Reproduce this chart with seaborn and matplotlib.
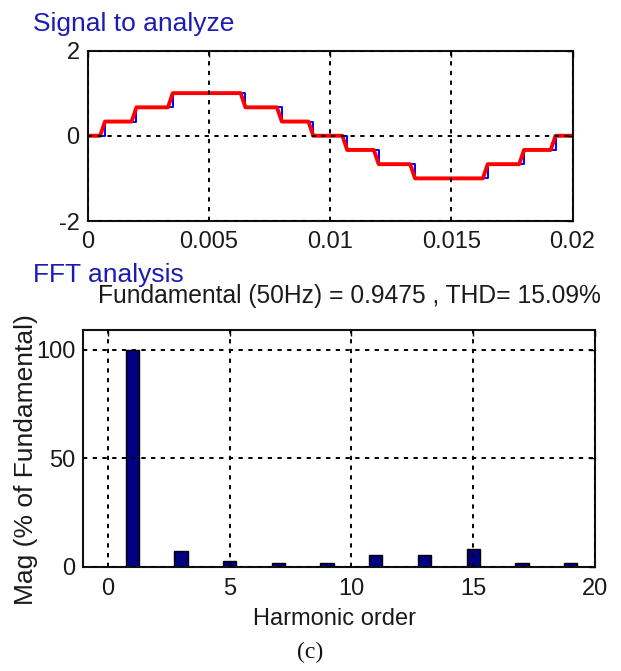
import numpy as np
import pandas as pd
import matplotlib
matplotlib.use("Agg")
import matplotlib.pyplot as plt
import seaborn as sns

# ---- staircase output voltage (per unit) over one 50 Hz cycle ----
step_times = [0.0, 0.0007, 0.0020, 0.0035, 0.0065, 0.0080, 0.0093,
              0.0107, 0.0120, 0.0135, 0.0165, 0.0180, 0.0193, 0.0200]
step_levels = [0.0, 1/3, 2/3, 1.0, 2/3, 1/3, 0.0,
               -1/3, -2/3, -1.0, -2/3, -1/3, 0.0, 0.0]

# filtered/sampled trace: each level change ramps between these instants
ramp_start = [0.0005, 0.0018, 0.0033, 0.0063, 0.0078, 0.0091,
              0.0105, 0.0118, 0.0133, 0.0163, 0.0178, 0.0191]
ramp_end = [0.0007, 0.0020, 0.0035, 0.0065, 0.0080, 0.0093,
            0.0107, 0.0120, 0.0135, 0.0165, 0.0180, 0.0193]

# ---- harmonic spectrum (% of fundamental) ----
harmonics = [1, 3, 5, 7, 9, 11, 13, 15, 17, 19]
magnitudes = [100.0, 7.4, 2.8, 1.8, 1.8, 5.4, 5.4, 8.3, 1.7, 1.7]

fundamental = 0.9475
thd = 15.09

top_xticks = [0, 0.005, 0.01, 0.015, 0.02]
top_xticklabels = ["0", "0.005", "0.01", "0.015", "0.02"]
top_yticks = [-2, 0, 2]
bot_xticks = [0, 5, 10, 15, 20]
bot_yticks = [0, 50, 100]

sns.set_theme(style="white")
plt.rcParams["font.family"] = ["Liberation Sans", "DejaVu Sans"]
plt.rcParams["axes.unicode_minus"] = False
plt.rcParams["text.color"] = "#1a1a1a"

TXT = "#1a1a1a"
BLUE_TXT = "#1c1cb4"
FS = 17

W, H = 621, 671
fig = plt.figure(figsize=(W / 100, H / 100), dpi=100)


def px_axes(left, top, right, bottom):
    return fig.add_axes([left / W, 1 - bottom / H, (right - left) / W, (bottom - top) / H])


def fy(y):
    return 1 - y / H


grid_kw = dict(color="black", linestyle=(0, (2.2, 2.8)), linewidth=1.4)


def style_axes(ax, xpad, ypad):
    for s in ax.spines.values():
        s.set_color("#111111")
        s.set_linewidth(1.5)
    ax.tick_params(direction="in", length=4, width=1, colors="black",
                   top=True, right=True, labelsize=FS, labelcolor=TXT)
    ax.tick_params(axis="x", pad=xpad)
    ax.tick_params(axis="y", pad=ypad)
    ax.grid(True, **grid_kw)
    ax.set_axisbelow(False)
    ax.set_facecolor("white")


# ---------------- signal panel ----------------
ax1 = px_axes(88, 50.5, 572.5, 221)
sig = pd.DataFrame({"t": step_times, "v": step_levels})
sns.lineplot(data=sig, x="t", y="v", ax=ax1, color="#0000ff", linewidth=1.4,
             drawstyle="steps-post", estimator=None, sort=False)

rt = [0.0]
rv = [0.0]
for i, (a, b) in enumerate(zip(ramp_start, ramp_end)):
    rt += [a, b]
    rv += [step_levels[i], step_levels[i + 1]]
rt.append(0.02)
rv.append(0.0)
red = pd.DataFrame({"t": rt, "v": rv})
sns.lineplot(data=red, x="t", y="v", ax=ax1, color="#ff0000", linewidth=2.8,
             estimator=None, sort=False)

ax1.set_xlim(0, 0.02)
ax1.set_ylim(-2, 2)
ax1.set_xticks(top_xticks)
ax1.set_xticklabels(top_xticklabels)
ax1.set_yticks(top_yticks)
ax1.set_xlabel("")
ax1.set_ylabel("")
style_axes(ax1, xpad=7, ypad=6)

fig.text(33 / W, fy(31), "Signal to analyze", color=BLUE_TXT,
         fontsize=19, va="baseline", ha="left")

# ---------------- spectrum panel ----------------
ax2 = px_axes(83.5, 330, 595, 566.7)
spec = pd.DataFrame({"h": harmonics, "m": magnitudes})
sns.barplot(data=spec, x="h", y="m", ax=ax2, native_scale=True, width=0.27,
            color="#000080", saturation=1, edgecolor="black", linewidth=1.0)
ax2.set_xlim(-1, 20)
ax2.set_ylim(0, 109)
ax2.set_xticks(bot_xticks)
ax2.set_xticklabels([str(v) for v in bot_xticks])
ax2.set_yticks(bot_yticks)
ax2.set_xlabel("")
ax2.set_ylabel("")
style_axes(ax2, xpad=8, ypad=6)
for lbl in ax2.get_yticklabels():
    lbl.set_family(["Liberation Sans Narrow", "Liberation Sans"])

fig.text(33 / W, fy(282), "FFT analysis", color=BLUE_TXT,
         fontsize=19, va="baseline", ha="left")
fig.text(349 / W, fy(303),
         f"Fundamental (50Hz) = {fundamental} , THD= {thd:.2f}%",
         fontsize=17.7, va="baseline", ha="center", color=TXT)
fig.text(335 / W, fy(625), "Harmonic order", fontsize=FS,
         va="baseline", ha="center", color=TXT)
fig.text(26 / W, fy(460), "Mag (% of Fundamental)", fontsize=19,
         rotation=90, va="center", ha="center", color=TXT)

fig.text(310 / W, fy(652), "(c)", fontsize=17, ha="center", va="center",
         color="#111111", family=["Liberation Serif", "DejaVu Serif"])

fig.savefig("out.png", dpi=100, facecolor="white")
